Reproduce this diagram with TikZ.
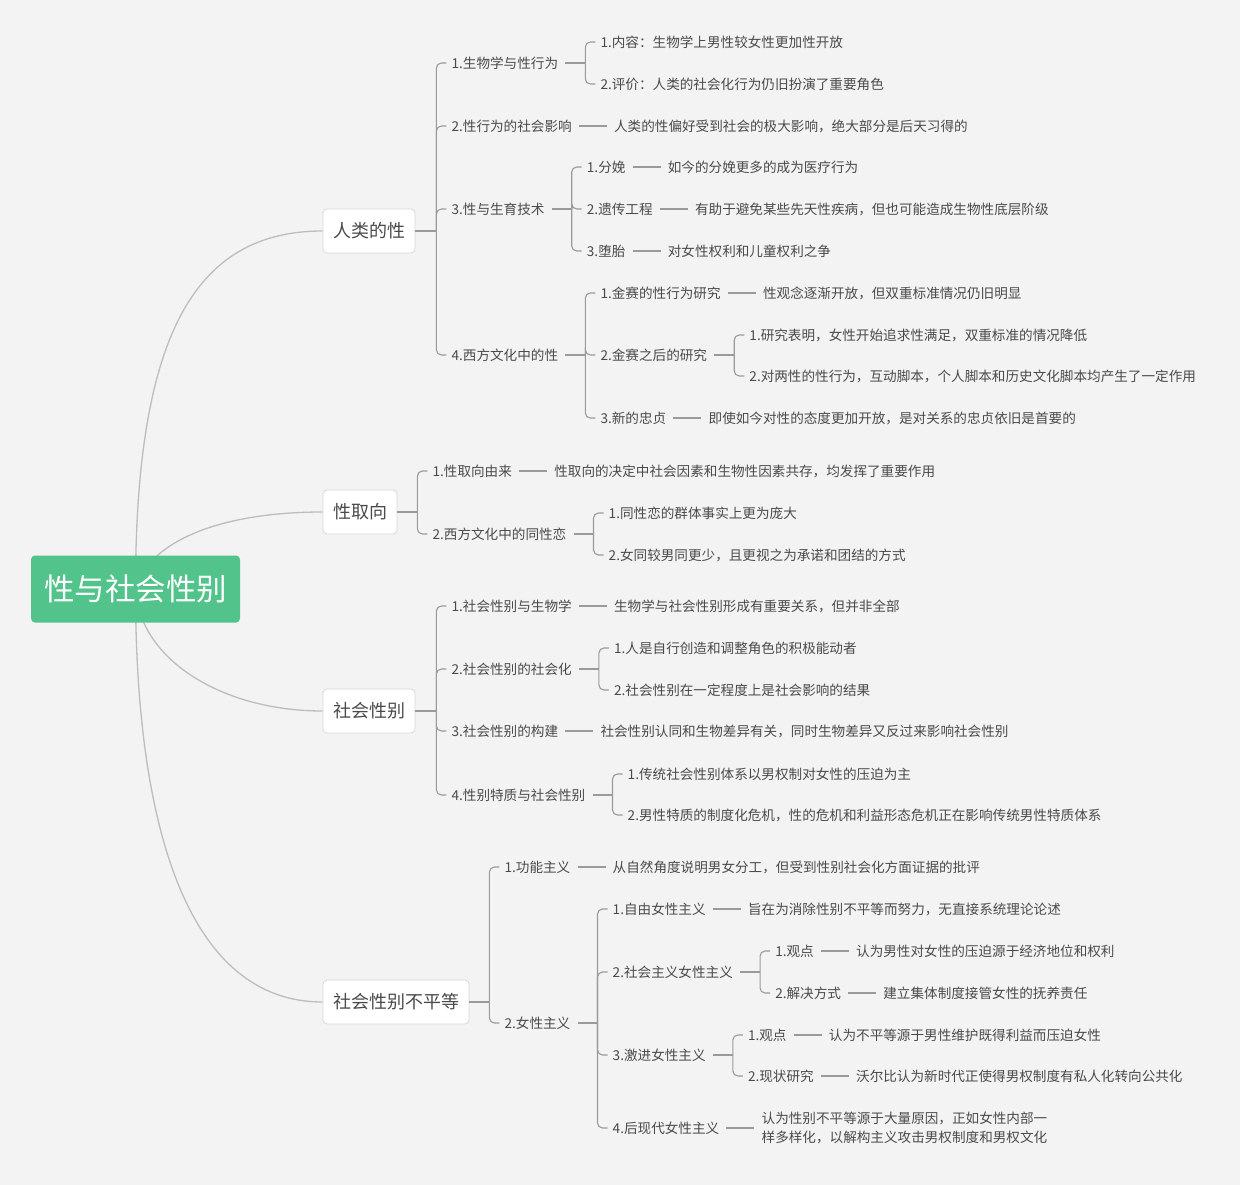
\documentclass[tikz,border=0pt]{standalone}
\usepackage{fontspec}
\newfontfamily\cjk{Noto Sans CJK SC}
\usetikzlibrary{positioning,calc}
\pgfdeclarelayer{bglayer}
\pgfsetlayers{bglayer,main}
\definecolor{bgcol}{HTML}{F3F3F3}
\definecolor{rootgreen}{HTML}{52C48B}
\definecolor{txt}{HTML}{4A4A4A}
\definecolor{linegray}{HTML}{9A9A9A}
\definecolor{curvegray}{HTML}{BDBDBD}
\definecolor{boxborder}{HTML}{D9D9D9}
\begin{document}
\begin{tikzpicture}[x=1pt,y=-1pt,
  rootbox/.style={fill=rootgreen, rounded corners=4pt, text=white,
    font=\cjk\fontsize{30.5}{36}\selectfont, minimum width=209pt, minimum height=67pt, inner sep=0pt},
  topicbox/.style={draw=boxborder, line width=0.8pt, fill=white, rounded corners=4pt, text=txt,
    font=\cjk\fontsize{18}{22}\selectfont, minimum height=44pt, inner xsep=10pt, inner ysep=0pt},
  item/.style={font=\cjk\fontsize{13.6}{16}\selectfont, text=txt, inner xsep=5pt, inner ysep=2pt, anchor=west},
  kid/.style={item, xshift=10pt},
  link/.style={draw=linegray, line width=1.1pt},
  elbow/.style={link, rounded corners=5pt},
  leafline/.style={link, shorten <=2pt, shorten >=2pt},
  curve/.style={draw=curvegray, line width=1.3pt},
  node distance=32pt
]
\useasboundingbox (0,0) rectangle (1240,1185);

% root and topics
\node[rootbox] (root) at (135.5,589) {性与社会性别};
\node[topicbox] (h1) at (369,231) {人类的性};
\node[topicbox] (h2) at (360,512) {性取向};
\node[topicbox] (h3) at (369,711) {社会性别};
\node[topicbox] (h4) at (396,1002) {社会性别不平等};

% ---------- group 1 ----------
\draw[link] (h1.east) -- ++(21,0) coordinate (s1);
\node[kid] (a1) at (s1 |- 0,63) {1.生物学与性行为};
\node[kid] (a2) at (s1 |- 0,126) {2.性行为的社会影响};
\node[kid] (a3) at (s1 |- 0,209) {3.性与生育技术};
\node[kid] (a4) at (s1 |- 0,355) {4.西方文化中的性};
\foreach \n in {a1,a2,a3,a4} \draw[elbow] (s1) |- (\n.west);

\draw[link] ([xshift=2pt]a1.east) -- ++(20,0) coordinate (s11);
\node[kid] (a11) at (s11 |- 0,42) {1.内容：生物学上男性较女性更加性开放};
\node[kid] (a12) at (s11 |- 0,84) {2.评价：人类的社会化行为仍旧扮演了重要角色};
\foreach \n in {a11,a12} \draw[elbow] (s11) |- (\n.west);

\node[item, right=of a2] (a2d) {人类的性偏好受到社会的极大影响，绝大部分是后天习得的};
\draw[leafline] (a2) -- (a2d);

\draw[link] ([xshift=2pt]a3.east) -- ++(20,0) coordinate (s13);
\node[kid] (a31) at (s13 |- 0,167) {1.分娩};
\node[kid] (a32) at (s13 |- 0,209) {2.遗传工程};
\node[kid] (a33) at (s13 |- 0,251) {3.堕胎};
\foreach \n in {a31,a32,a33} \draw[elbow] (s13) |- (\n.west);
\node[item, right=of a31] (a31d) {如今的分娩更多的成为医疗行为};
\node[item, right=of a32] (a32d) {有助于避免某些先天性疾病，但也可能造成生物性底层阶级};
\node[item, right=of a33] (a33d) {对女性权利和儿童权利之争};
\draw[leafline] (a31) -- (a31d);
\draw[leafline] (a32) -- (a32d);
\draw[leafline] (a33) -- (a33d);

\draw[link] ([xshift=2pt]a4.east) -- ++(20,0) coordinate (s14);
\node[kid] (a41) at (s14 |- 0,293) {1.金赛的性行为研究};
\node[kid] (a42) at (s14 |- 0,355) {2.金赛之后的研究};
\node[kid] (a43) at (s14 |- 0,418) {3.新的忠贞};
\foreach \n in {a41,a42,a43} \draw[elbow] (s14) |- (\n.west);
\node[item, right=of a41] (a41d) {性观念逐渐开放，但双重标准情况仍旧明显};
\draw[leafline] (a41) -- (a41d);
\draw[link] ([xshift=2pt]a42.east) -- ++(20,0) coordinate (s142);
\node[kid] (a421) at (s142 |- 0,335) {1.研究表明，女性开始追求性满足，双重标准的情况降低};
\node[kid] (a422) at (s142 |- 0,376) {2.对两性的性行为，互动脚本，个人脚本和历史文化脚本均产生了一定作用};
\foreach \n in {a421,a422} \draw[elbow] (s142) |- (\n.west);
\node[item, right=of a43] (a43d) {即使如今对性的态度更加开放，是对关系的忠贞依旧是首要的};
\draw[leafline] (a43) -- (a43d);

% ---------- group 2 ----------
\draw[link] (h2.east) -- ++(20,0) coordinate (s2);
\node[kid] (b1) at (s2 |- 0,471) {1.性取向由来};
\node[kid] (b2) at (s2 |- 0,534) {2.西方文化中的同性恋};
\foreach \n in {b1,b2} \draw[elbow] (s2) |- (\n.west);
\node[item, right=of b1] (b1d) {性取向的决定中社会因素和生物性因素共存，均发挥了重要作用};
\draw[leafline] (b1) -- (b1d);
\draw[link] ([xshift=2pt]b2.east) -- ++(20,0) coordinate (s22);
\node[kid] (b21) at (s22 |- 0,513) {1.同性恋的群体事实上更为庞大};
\node[kid] (b22) at (s22 |- 0,555) {2.女同较男同更少，且更视之为承诺和团结的方式};
\foreach \n in {b21,b22} \draw[elbow] (s22) |- (\n.west);

% ---------- group 3 ----------
\draw[link] (h3.east) -- ++(21,0) coordinate (s3);
\node[kid] (c1) at (s3 |- 0,606) {1.社会性别与生物学};
\node[kid] (c2) at (s3 |- 0,669) {2.社会性别的社会化};
\node[kid] (c3) at (s3 |- 0,731) {3.社会性别的构建};
\node[kid] (c4) at (s3 |- 0,795) {4.性别特质与社会性别};
\foreach \n in {c1,c2,c3,c4} \draw[elbow] (s3) |- (\n.west);
\node[item, right=of c1] (c1d) {生物学与社会性别形成有重要关系，但并非全部};
\draw[leafline] (c1) -- (c1d);
\draw[link] ([xshift=2pt]c2.east) -- ++(20,0) coordinate (s32);
\node[kid] (c21) at (s32 |- 0,648) {1.人是自行创造和调整角色的积极能动者};
\node[kid] (c22) at (s32 |- 0,690) {2.社会性别在一定程度上是社会影响的结果};
\foreach \n in {c21,c22} \draw[elbow] (s32) |- (\n.west);
\node[item, right=of c3] (c3d) {社会性别认同和生物差异有关，同时生物差异又反过来影响社会性别};
\draw[leafline] (c3) -- (c3d);
\draw[link] ([xshift=2pt]c4.east) -- ++(20,0) coordinate (s34);
\node[kid] (c41) at (s34 |- 0,774) {1.传统社会性别体系以男权制对女性的压迫为主};
\node[kid] (c42) at (s34 |- 0,815) {2.男性特质的制度化危机，性的危机和利益形态危机正在影响传统男性特质体系};
\foreach \n in {c41,c42} \draw[elbow] (s34) |- (\n.west);

% ---------- group 4 ----------
\draw[link] (h4.east) -- ++(20,0) coordinate (s4);
\node[kid] (d1) at (s4 |- 0,867) {1.功能主义};
\node[kid] (d2) at (s4 |- 0,1023) {2.女性主义};
\foreach \n in {d1,d2} \draw[elbow] (s4) |- (\n.west);
\node[item, right=of d1] (d1d) {从自然角度说明男女分工，但受到性别社会化方面证据的批评};
\draw[leafline] (d1) -- (d1d);

\draw[link] ([xshift=2pt]d2.east) -- ++(20,0) coordinate (s42);
\node[kid] (d21) at (s42 |- 0,909) {1.自由女性主义};
\node[kid] (d22) at (s42 |- 0,972) {2.社会主义女性主义};
\node[kid] (d23) at (s42 |- 0,1055) {3.激进女性主义};
\node[kid] (d24) at (s42 |- 0,1128) {4.后现代女性主义};
\foreach \n in {d21,d22,d23,d24} \draw[elbow] (s42) |- (\n.west);
\node[item, right=of d21] (d21d) {旨在为消除性别不平等而努力，无直接系统理论论述};
\draw[leafline] (d21) -- (d21d);

\draw[link] ([xshift=2pt]d22.east) -- ++(20,0) coordinate (s422);
\node[kid] (d221) at (s422 |- 0,951) {1.观点};
\node[kid] (d222) at (s422 |- 0,993) {2.解决方式};
\foreach \n in {d221,d222} \draw[elbow] (s422) |- (\n.west);
\node[item, right=of d221] (d221d) {认为男性对女性的压迫源于经济地位和权利};
\node[item, right=of d222] (d222d) {建立集体制度接管女性的抚养责任};
\draw[leafline] (d221) -- (d221d);
\draw[leafline] (d222) -- (d222d);

\draw[link] ([xshift=2pt]d23.east) -- ++(20,0) coordinate (s423);
\node[kid] (d231) at (s423 |- 0,1035) {1.观点};
\node[kid] (d232) at (s423 |- 0,1076) {2.现状研究};
\foreach \n in {d231,d232} \draw[elbow] (s423) |- (\n.west);
\node[item, right=of d231] (d231d) {认为不平等源于男性维护既得利益而压迫女性};
\node[item, right=of d232] (d232d) {沃尔比认为新时代正使得男权制度有私人化转向公共化};
\draw[leafline] (d231) -- (d231d);
\draw[leafline] (d232) -- (d232d);

\node[item, right=of d24, align=left, font=\cjk\fontsize{13.6}{19}\selectfont] (d24d)
  {认为性别不平等源于大量原因，正如女性内部一\\样多样化，以解构主义攻击男权制度和男权文化};
\draw[leafline] (d24) -- (d24d);

% ---------- background and main curves ----------
\begin{pgfonlayer}{bglayer}
\fill[bgcol] (0,0) rectangle (1240,1185);
\draw[curve] (root.center) .. controls +(0,-250) and +(-130,0) .. (h1.west);
\draw[curve] (root.center) .. controls +(14,-49) and +(-100,0) .. (h2.west);
\draw[curve] (root.center) .. controls +(4,71) and +(-100,0) .. (h3.west);
\draw[curve] (root.center) .. controls +(0,250) and +(-130,0) .. (h4.west);
\end{pgfonlayer}
\end{tikzpicture}
\end{document}
